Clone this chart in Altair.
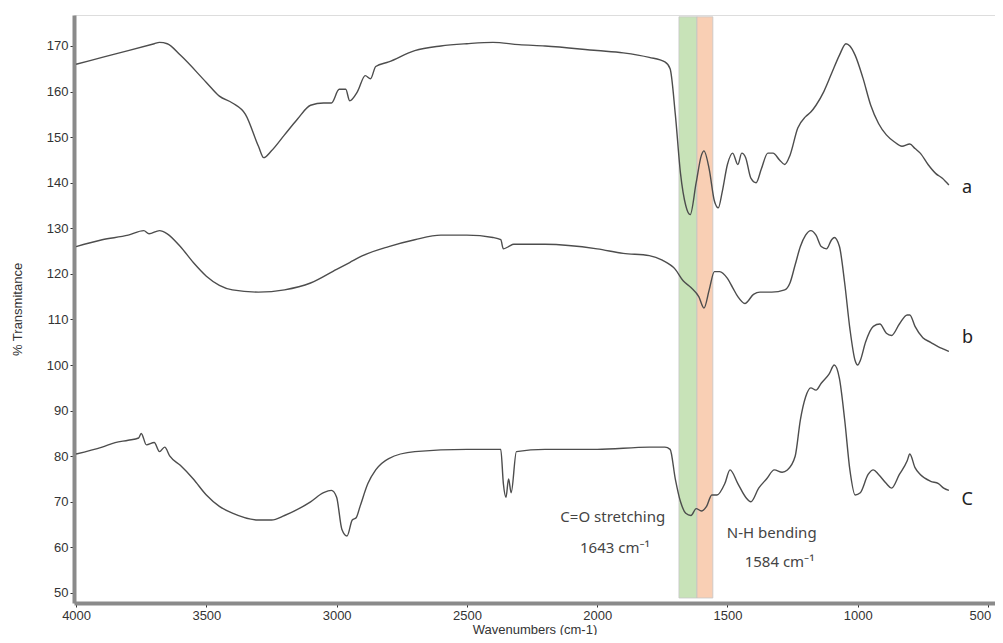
import altair as alt
import pandas as pd

# wavenumbers (cm-1) and %T values
wn_a = [4000, 3900, 3800, 3700, 3680, 3650, 3600, 3500, 3450, 3400, 3350, 3300, 3280, 3250, 3200, 3150,
        3100, 3050, 3020, 2990, 2965, 2950, 2920, 2890, 2870, 2850, 2800, 2700, 2600, 2500, 2400, 2300,
        2200, 2000, 1900, 1800, 1740, 1720, 1700, 1680, 1660, 1643, 1620, 1600, 1590, 1570, 1550, 1535,
        1520, 1500, 1480, 1460, 1445, 1430, 1410, 1390, 1370, 1345, 1325, 1300, 1280, 1260, 1230, 1200,
        1180, 1160, 1130, 1100, 1070, 1045, 1030, 1010, 980, 950, 920, 890, 860, 830, 800, 780, 760,
        730, 700, 675, 650]
t_a = [166, 167.5, 169, 170.5, 170.8, 170.5, 168, 162, 159, 157.5, 155, 148, 145.5, 147, 150.5, 154,
       157, 157.5, 157.5, 160.5, 160.5, 158, 160, 163.5, 162.8, 165.5, 166.5, 169, 170, 170.5, 170.8, 170.3,
       170, 169, 168.5, 167.5, 166.5, 165, 155, 142, 135, 133, 140, 146, 147, 143, 136, 134.5,
       138, 144, 146.5, 144, 146.5, 145.5, 141, 140, 143, 146.5, 146.5, 145, 144, 146, 152, 154.5,
       155.5, 157, 160, 164, 168, 170.5, 170, 168, 163, 157, 153, 150.5, 149, 148, 148.5, 147.5, 146.5,
       144, 142, 141, 139.5]

wn_b = [4000, 3900, 3800, 3740, 3720, 3680, 3650, 3600, 3550, 3500, 3450, 3400, 3300, 3200, 3100, 3000,
        2950, 2900, 2800, 2700, 2600, 2500, 2400, 2370, 2360, 2340, 2320, 2200, 2000, 1900, 1800, 1750,
        1700, 1670, 1640, 1610, 1590, 1570, 1550, 1530, 1500, 1480, 1460, 1433, 1400, 1375, 1330, 1280,
        1260, 1240, 1220, 1200, 1180, 1160, 1140, 1120, 1100, 1090, 1070, 1050, 1030, 1010, 1000, 990,
        970, 940, 915, 890, 870, 840, 810, 800, 780, 750, 720, 690, 670, 650]
t_b = [126, 127.5, 128.5, 129.5, 128.8, 129.5, 128.8, 126, 122.5, 119.5, 117.5, 116.5, 116, 116.5, 118, 121,
       122.5, 124, 126, 127.5, 128.5, 128.5, 128, 127.5, 125.5, 126, 126.5, 126.5, 125.5, 124.5, 124, 123,
       121, 118.5, 117, 115, 112.5, 116.5, 120.5, 120.5, 119, 117, 115, 113.5, 115.5, 116, 116, 116.5,
       118, 122, 126, 128.5, 129.5, 128.5, 126, 125.5, 127.5, 128, 126, 118, 108, 101, 100, 101,
       105, 108.5, 109, 107, 106.5, 109, 111, 111, 108.5, 106, 105, 104, 103.5, 103]

wn_c = [4000, 3900, 3850, 3800, 3760, 3750, 3730, 3700, 3680, 3660, 3640, 3600, 3550, 3500, 3450, 3400,
        3300, 3250, 3200, 3100, 3050, 3020, 3000, 2980, 2960, 2940, 2925, 2910, 2880, 2850, 2800, 2700,
        2500, 2400, 2370, 2360, 2350, 2340, 2330, 2310, 2200, 2000, 1800, 1740, 1720, 1700, 1680, 1660,
        1640, 1620, 1600, 1580, 1560, 1540, 1510, 1490, 1460, 1430, 1410, 1380, 1350, 1320, 1290, 1270,
        1240, 1220, 1200, 1180, 1160, 1140, 1110, 1090, 1070, 1050, 1030, 1010, 990, 960, 940, 920,
        890, 870, 840, 810, 800, 780, 760, 720, 690, 670, 650]
t_c = [80.5, 82, 83, 83.5, 84, 85, 82.5, 83, 81, 82, 80, 78, 75, 71.5, 69, 67.5,
       66, 66, 67, 70, 72, 72.5, 71, 64, 62.5, 66, 66.5, 69, 74, 77, 79.5, 81,
       81.5, 81.5, 81.5, 74, 71, 75, 72, 81, 81.5, 81.5, 82, 82, 81.5, 75, 70, 67.5,
       67, 68.5, 68, 69, 71.5, 71.5, 74, 77, 74, 71, 70, 73, 75, 77, 76.5, 77,
       80, 88, 93, 95, 94.5, 96, 98, 100, 97, 88, 77, 71.5, 72, 76, 77, 76,
       74, 73, 76, 79, 80.5, 77.5, 76, 74.5, 74, 73, 72.5]

x_ticks = [4000, 3500, 3000, 2500, 2000, 1500, 1000, 500]
y_ticks = [50, 60, 70, 80, 90, 100, 110, 120, 130, 140, 150, 160, 170]

band_start = [1686, 1617]
band_end = [1617, 1556]
band_color = ["#c6e2b5", "#f9cdb0"]

label_text = ["a", "b", "C"]
label_wn = [600, 600, 602]
label_t = [138.8, 105.9, 70.4]

note_text = ["C=O stretching", "1643 cm\u207b\u00b9", "N-H bending", "1584 cm\u207b\u00b9"]
note_wn = [1940, 1932, 1330, 1300]
note_t = [66.7, 59.9, 63.2, 56.8]

XD = [4008, 473]
YD = [47.8, 176.8]

rows = []
for name, ws, ts in (("a", wn_a, t_a), ("b", wn_b, t_b), ("c", wn_c, t_c)):
    for w, t in zip(ws, ts):
        rows.append({"series": name, "wn": w, "t": t})
spec = pd.DataFrame(rows)

bands = pd.DataFrame({"x1": band_start, "x2": band_end, "col": band_color,
                      "y1": [48.9] * 2, "y2": [176.4] * 2})
labels = pd.DataFrame({"txt": label_text, "wn": label_wn, "t": label_t})
notes = pd.DataFrame({"txt": note_text, "wn": note_wn, "t": note_t})

xscale = alt.Scale(domain=XD, nice=False, zero=False)
yscale = alt.Scale(domain=YD, nice=False, zero=False)

band_layer = alt.Chart(bands).mark_rect(opacity=0.95, stroke="#c4c4c4", strokeWidth=0.8).encode(
    x=alt.X("x1:Q", scale=xscale), x2="x2:Q",
    y=alt.Y("y1:Q", scale=yscale), y2="y2:Q",
    color=alt.Color("col:N", scale=None),
)

lines = alt.Chart(spec).mark_line(color="#4d4d4d", strokeWidth=1.4, interpolate="monotone").encode(
    x=alt.X("wn:Q", scale=xscale,
            axis=alt.Axis(title="Wavenumbers (cm-1)", values=x_ticks, format="d",
                          labelFontSize=13, titleFontSize=13, titleFontWeight="normal",
                          labelColor="#333", titleColor="#333", titlePadding=1,
                          labelOffset=alt.expr("datum.value == 500 ? -8 : 0"),
                          domainColor="#8a8a8a", domainWidth=4, tickColor="#333", tickSize=4,
                          labelFont="Liberation Sans", titleFont="Liberation Sans", grid=False)),
    y=alt.Y("t:Q", scale=yscale,
            axis=alt.Axis(title="% Transmitance", values=y_ticks,
                          labelFontSize=13, titleFontSize=13, titleFontWeight="normal",
                          labelColor="#333", titleColor="#333", titlePadding=22,
                          domainColor="#8a8a8a", domainWidth=4, tickColor="#333", tickSize=4,
                          labelFont="Liberation Sans", titleFont="Liberation Sans", grid=False)),
    detail="series:N",
)

lab_layer = alt.Chart(labels).mark_text(fontSize=18, font="Noto Sans", color="#222", align="left",
                                       baseline="middle").encode(
    x=alt.X("wn:Q", scale=xscale), y=alt.Y("t:Q", scale=yscale), text="txt:N")

note_layer = alt.Chart(notes).mark_text(fontSize=15, font="Noto Sans", color="#444", align="center",
                                        baseline="middle").encode(
    x=alt.X("wn:Q", scale=xscale), y=alt.Y("t:Q", scale=yscale), text="txt:N")

chart = alt.layer(band_layer, lines, lab_layer, note_layer).properties(
    width=921, height=588,
    padding={"left": 66, "top": 7, "right": 0, "bottom": 32},
    autosize=alt.AutoSizeParams(type="none"),
).configure_view(stroke=None).configure(background="white")

chart.save("out.html", embed_options={"renderer": "svg", "actions": False})
